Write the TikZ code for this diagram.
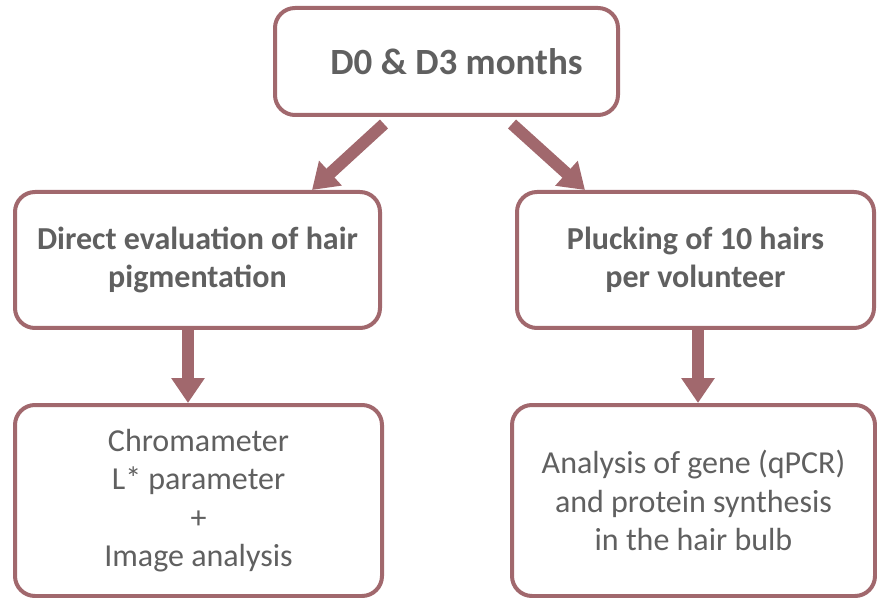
\documentclass[tikz,border=0pt]{standalone}
\usepackage{fontspec}
\setmainfont{Carlito}
\usetikzlibrary{arrows.meta,calc}
\definecolor{boxrose}{RGB}{161,104,109}
\definecolor{textgrey}{RGB}{96,96,96}
\tikzset{
    box/.style={draw=boxrose, line width=2pt, rounded corners=10pt, fill=white, align=center,
        text=textgrey, inner sep=0pt, font=\fontsize{16}{19.25}\selectfont},
    headbox/.style={box, font=\bfseries\fontsize{16}{19.25}\selectfont},
    link/.style={draw=boxrose, line width=6pt, -{Triangle[width=16pt,length=12.5pt]}}
}
\begin{document}
\begin{tikzpicture}[x=0.5pt, y=-0.5pt]
    \useasboundingbox (0,0) rectangle (877,598);
    % Time points
    \node[box, font=\bfseries\fontsize{18.5}{22}\selectfont, minimum width=171.5pt, minimum height=53.5pt]
        (months) at (446.5,61.5) {\hspace*{10pt}D0 \& D3 months};

    % Two branches
    \node[headbox, minimum width=182.5pt, minimum height=68pt] (direct) at (197.5,260)
        {Direct evaluation of hair\\pigmentation};
    \node[headbox, minimum width=178.5pt, minimum height=68pt] (pluck) at (695.5,260)
        {Plucking of 10 hairs\\per volunteer};

    % Measurements
    \node[box, minimum width=183.5pt, minimum height=95.5pt] (chroma) at (198.5,500.5)
        {Chromameter\\L* parameter\\+\\Image analysis};
    \node[box, minimum width=181.5pt, minimum height=95.5pt] (bulb) at (693.5,500.5)
        {Analysis of gene (qPCR)\\and protein synthesis\\in the hair bulb};

    % Arrows
    \draw[link] ($(months.south)+(-62.5,7)$) -- ($(direct.north)+(114.5,0)$);
    \draw[link] ($(months.south)+(65.5,7)$) -- ($(pluck.north)+(-110.5,0)$);
    \draw[link] ($(direct.south)+(-9.5,0)$) -- ($(chroma.north)+(-10.5,0)$);
    \draw[link] ($(pluck.south)+(2.5,0)$) -- ($(bulb.north)+(4.5,0)$);
\end{tikzpicture}
\end{document}
